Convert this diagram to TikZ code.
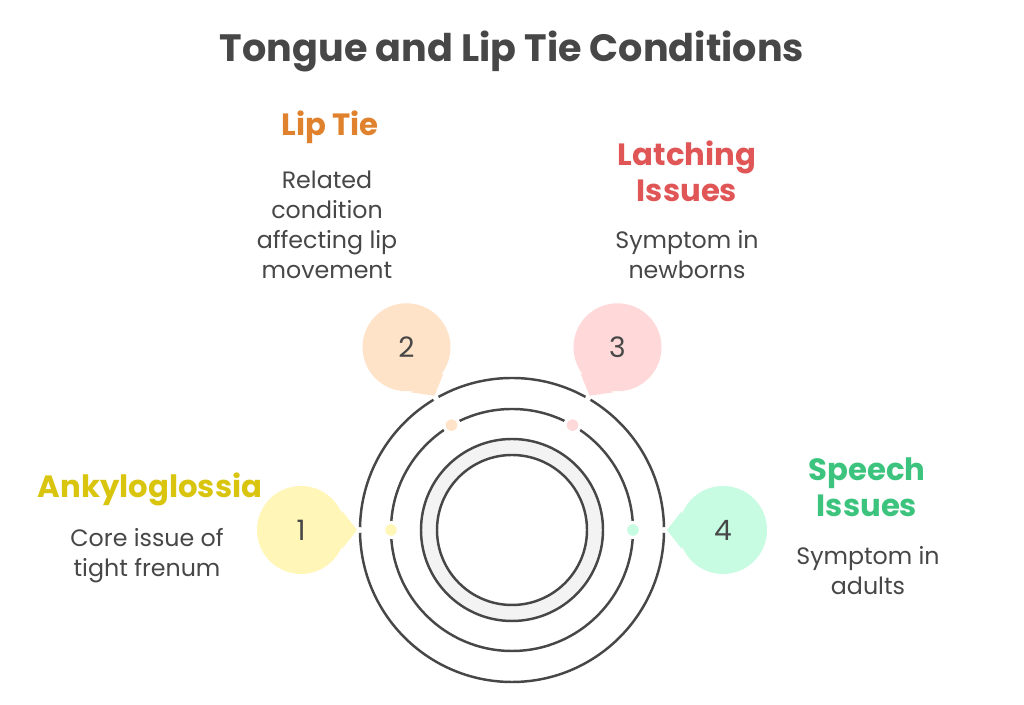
\documentclass[tikz,border=0pt]{standalone}
\usepackage{fontspec}
\setmainfont{Poppins}
\usetikzlibrary{positioning,calc}
\definecolor{ink}{HTML}{474747}
\definecolor{ringgray}{HTML}{F3F3F3}
\definecolor{fillA}{HTML}{FFF6B8}
\definecolor{fillB}{HTML}{FFE3C8}
\definecolor{fillC}{HTML}{FFD9D9}
\definecolor{fillD}{HTML}{C7FCE2}
\definecolor{headA}{HTML}{D9C50E}
\definecolor{headB}{HTML}{E0812D}
\definecolor{headC}{HTML}{E05555}
\definecolor{headD}{HTML}{3CC47E}

\begin{document}
\begin{tikzpicture}[x=0.02cm,y=0.02cm,line width=1.4pt,
  bubble/.style={circle,minimum size=1.76cm,inner sep=0pt,text=ink,font=\fontsize{16}{20}\selectfont},
  spot/.style={circle,minimum size=0.3cm,inner sep=0pt,draw=white,line width=1.8pt},
  head/.style={align=center,font=\fontsize{17.5}{20.5}\selectfont\bfseries},
  body/.style={align=center,text=ink,font=\fontsize{13.5}{17}\selectfont}]

\useasboundingbox[fill=white] (0,0) rectangle (1024,705);

\coordinate (c) at (512,175);

\node[text=ink,font=\fontsize{21.7}{26}\selectfont\bfseries] (title) at (512,654) {Tongue and Lip Tie Conditions};

% rings
\draw[ink] (c) circle (152);
\draw[ink] (c) circle (121);
\draw[ink,fill=ringgray,even odd rule] (c) circle (91) (c) circle (75);

% bubbles
\node[bubble,fill=fillA] (b1) at ($(c)+(180:211)$) {1};
\node[bubble,fill=fillB] (b2) at ($(c)+(120:211)$) {2};
\node[bubble,fill=fillC] (b3) at ($(c)+(60:211)$)  {3};
\node[bubble,fill=fillD] (b4) at ($(c)+(0:211)$)   {4};

\coordinate (p1) at ($(c)+(180:155)$);
\coordinate (p2) at ($(c)+(120:155)$);
\coordinate (p3) at ($(c)+(60:155)$);
\coordinate (p4) at ($(c)+(0:155)$);

\fill[white] ($(c)+(180:152)$) circle (3) ($(c)+(120:152)$) circle (3)
             ($(c)+(60:152)$) circle (3)  ($(c)+(0:152)$) circle (3);

\fill[fillA] (b1.-25) -- (p1) -- (b1.25)  -- cycle;
\fill[fillB] (b2.275) -- (p2) -- (b2.325) -- cycle;
\fill[fillC] (b3.215) -- (p3) -- (b3.265) -- cycle;
\fill[fillD] (b4.155) -- (p4) -- (b4.205) -- cycle;

% dots on the middle ring
\node[spot,fill=fillA] (d1) at ($(c)+(180:121)$) {};
\node[spot,fill=fillB] (d2) at ($(c)+(120:121)$) {};
\node[spot,fill=fillC] (d3) at ($(c)+(60:121)$)  {};
\node[spot,fill=fillD] (d4) at ($(c)+(0:121)$)   {};

% labels
\node[head,text=headA] (h1) at (150,216) {Ankyloglossia};
\node[body] (t1) at (147,149) {Core issue of\\tight frenum};

\node[head,text=headB] (h2) at (330,578) {Lip Tie};
\node[body] (t2) at (327,480) {Related\\condition\\affecting lip\\movement};

\node[head,text=headC] (h3) at (687,534) {Latching\\Issues};
\node[body] (t3) at (687,450) {Symptom in\\newborns};

\node[head,text=headD] (h4) at (867,218) {Speech\\Issues};
\node[body] (t4) at (868,134) {Symptom in\\adults};

\end{tikzpicture}
\end{document}
